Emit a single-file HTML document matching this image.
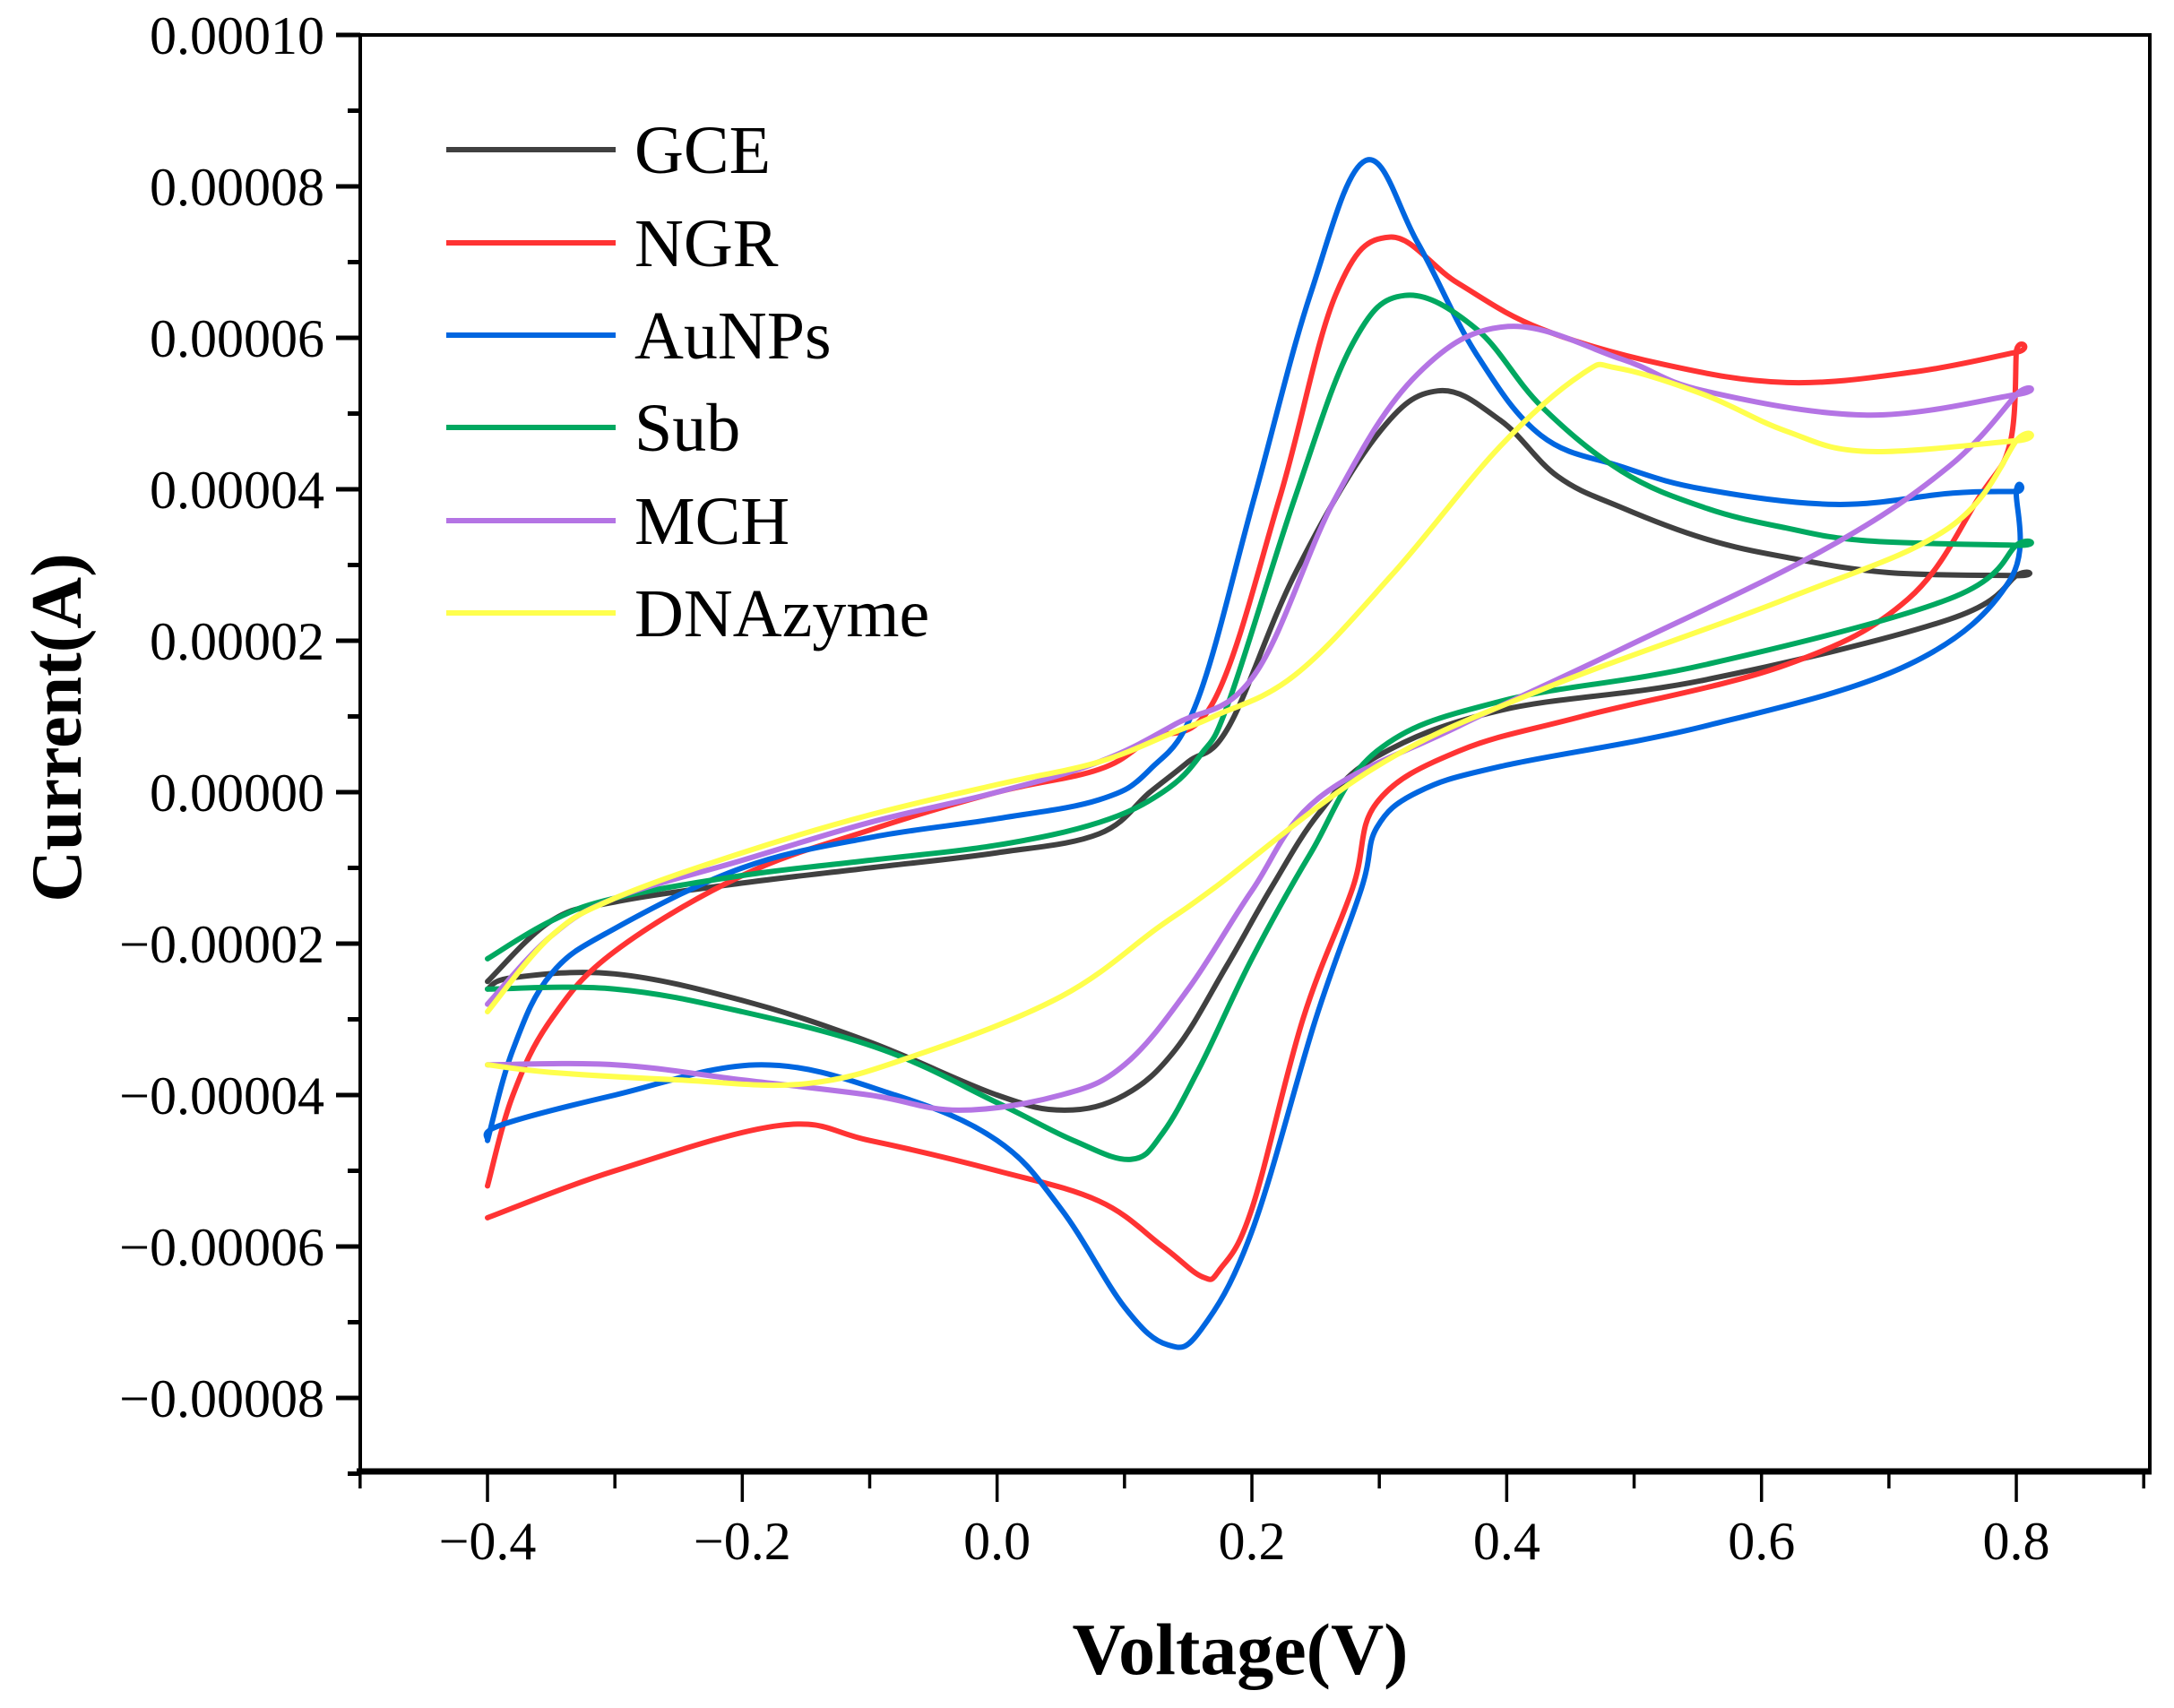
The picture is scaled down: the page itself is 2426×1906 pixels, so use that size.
<!DOCTYPE html>
<html>
<head>
<meta charset="utf-8">
<style>
html,body{margin:0;padding:0;background:#fff;}
svg{display:block;}
text{font-family:"Liberation Serif",serif;fill:#000;}
</style>
</head>
<body>
<svg id="chart" width="2426" height="1906" viewBox="0 0 2426 1906" xmlns="http://www.w3.org/2000/svg">
  <rect x="0" y="0" width="2426" height="1906" fill="#fff"/>
  <g id="series"></g>
  <g id="axes"></g>
  <g id="legend"></g>
  <text x="1384" y="1868" font-size="82" font-weight="bold" text-anchor="middle">Voltage(V)</text>
  <text transform="translate(90,812) rotate(-90)" font-size="80" font-weight="bold" text-anchor="middle">Current(A)</text>
</svg>
<script>
// ---- data (voltage in V, current in 1e-5 A), loop: forward sweep then reverse ----
const seriesNames = ["GCE","NGR","AuNPs","Sub","MCH","DNAzyme"];
const seriesColors = ["#404040","#ff3333","#0066e0","#00a860","#b474e4","#ffff4d"];

const gceV = [-0.4,-0.35,-0.3,-0.2,-0.1,0,0.08,0.12,0.15,0.182,0.234,0.298,0.346,0.395,0.44,0.49,0.555,0.62,0.7,0.8,
              0.8,0.747,0.555,0.395,0.298,0.253,0.215,0.18,0.14,0.1,0.053,0,-0.1,-0.2,-0.3,-0.38,-0.4];
const gceI = [-2.5,-1.7,-1.45,-1.2,-1.0,-0.8,-0.55,0,0.4,0.87,2.89,4.71,5.3,4.91,4.17,3.76,3.35,3.1,2.9,2.86,
              2.86,2.28,1.48,1.08,0.47,-0.27,-1.27,-2.3,-3.4,-4.0,-4.2,-4.0,-3.3,-2.75,-2.4,-2.45,-2.6];

const ngrV = [-0.4,-0.38,-0.35,-0.3,-0.2,-0.1,0,0.08,0.12,0.17,0.222,0.266,0.308,0.362,0.427,0.523,0.62,0.72,0.8,
              0.8,0.795,0.771,0.715,0.619,0.459,0.362,0.298,0.279,0.24,0.2,0.175,0.161,0.13,0.08,0,-0.1,-0.17,-0.3,-0.4];
const ngrI = [-5.2,-4.0,-3.0,-2.1,-1.1,-0.5,0,0.3,0.7,1.2,3.9,6.58,7.33,6.72,6.12,5.65,5.41,5.55,5.81,
              5.81,4.6,3.9,2.55,1.68,1.0,0.54,-0.14,-1.27,-3.0,-5.5,-6.3,-6.4,-6.0,-5.4,-5.0,-4.6,-4.4,-5.0,-5.62];

const aunpV = [-0.4,-0.38,-0.35,-0.3,-0.2,-0.1,0,0.08,0.12,0.157,0.202,0.246,0.289,0.33,0.376,0.427,0.49,0.555,0.658,0.75,0.8,
               0.8,0.795,0.715,0.555,0.395,0.33,0.298,0.286,0.25,0.2,0.16,0.134,0.1,0.05,0,-0.08,-0.185,-0.3,-0.39,-0.4];
const aunpI = [-4.6,-3.4,-2.4,-1.8,-1.0,-0.6,-0.35,-0.1,0.3,1.2,3.9,6.58,8.34,7.26,5.79,4.71,4.3,4.0,3.8,3.95,3.97,
               3.97,2.8,1.68,0.87,0.34,0.0,-0.47,-1.27,-3.0,-5.8,-7.1,-7.3,-6.8,-5.5,-4.6,-4.0,-3.6,-4.0,-4.4,-4.6];

const subV = [-0.4,-0.35,-0.3,-0.2,-0.1,0,0.08,0.13,0.16,0.182,0.234,0.279,0.32,0.376,0.427,0.49,0.555,0.619,0.683,0.8,
              0.8,0.747,0.555,0.395,0.298,0.246,0.2,0.16,0.13,0.105,0.06,0,-0.09,-0.2,-0.3,-0.4];
const subI = [-2.2,-1.7,-1.4,-1.1,-0.9,-0.7,-0.4,0,0.5,1.2,3.9,5.92,6.56,6.12,5.1,4.24,3.76,3.49,3.32,3.26,
              3.26,2.55,1.68,1.2,0.54,-0.81,-2.2,-3.6,-4.5,-4.85,-4.6,-4.1,-3.4,-2.9,-2.6,-2.6];

const mchV = [-0.4,-0.35,-0.3,-0.2,-0.1,0,0.08,0.14,0.202,0.266,0.33,0.401,0.49,0.555,0.683,0.8,
              0.8,0.747,0.651,0.49,0.362,0.253,0.2,0.15,0.1,0.05,-0.03,-0.1,-0.2,-0.3,-0.4];
const mchI = [-2.8,-1.9,-1.4,-0.9,-0.4,0,0.4,0.9,1.55,3.9,5.52,6.15,5.72,5.3,4.98,5.25,
              5.25,4.3,3.22,1.89,0.87,-0.07,-1.3,-2.6,-3.6,-4.0,-4.2,-4.0,-3.8,-3.6,-3.6];

const dnaV = [-0.4,-0.35,-0.3,-0.2,-0.1,0,0.08,0.14,0.17,0.234,0.311,0.395,0.459,0.487,0.555,0.619,0.683,0.8,
              0.8,0.747,0.619,0.427,0.298,0.17,0.127,0.05,-0.063,-0.15,-0.25,-0.35,-0.4];
const dnaI = [-2.9,-1.9,-1.4,-0.8,-0.3,0.1,0.4,0.8,1.0,1.55,2.89,4.57,5.52,5.6,5.25,4.77,4.5,4.64,
              4.64,3.49,2.55,1.35,0.34,-1.27,-1.78,-2.7,-3.47,-3.85,-3.8,-3.7,-3.6];

const allV = [gceV, ngrV, aunpV, subV, mchV, dnaV];
const allI = [gceI, ngrI, aunpI, subI, mchI, dnaI];
const seriesKeys = ["gce","ngr","aunps","sub","mch","dnazyme"];

const xTicks = [-0.4,-0.2,0.0,0.2,0.4,0.6,0.8];
const xTickLabels = ["\u22120.4","\u22120.2","0.0","0.2","0.4","0.6","0.8"];
const xMinorTicks = [-0.5,-0.3,-0.1,0.1,0.3,0.5,0.7,0.9];
const yTicks = [10,8,6,4,2,0,-2,-4,-6,-8];
const yTickLabels = ["0.00010","0.00008","0.00006","0.00004","0.00002","0.00000","\u22120.00002","\u22120.00004","\u22120.00006","\u22120.00008"];
const yMinorTicks = [9,7,5,3,1,-1,-3,-5,-7,-9];

// ---- axis functions ----
function xs(v){ return 544 + (v + 0.4) * 1421.7; }
function ys(i){ return 884 - i * 84.5; }

const NS = "http://www.w3.org/2000/svg";
function mk(tag, attrs){
  const el = document.createElementNS(NS, tag);
  for (const k in attrs) el.setAttribute(k, attrs[k]);
  return el;
}
function smoothPath(pts){
  let d = "M" + pts[0][0].toFixed(1) + "," + pts[0][1].toFixed(1);
  for (let k = 0; k < pts.length - 1; k++){
    const p0 = pts[Math.max(k-1,0)], p1 = pts[k], p2 = pts[k+1], p3 = pts[Math.min(k+2, pts.length-1)];
    const t = 0.18;
    const c1x = p1[0] + (p2[0]-p0[0])*t, c1y = p1[1] + (p2[1]-p0[1])*t;
    const c2x = p2[0] - (p3[0]-p1[0])*t, c2y = p2[1] - (p3[1]-p1[1])*t;
    d += " C" + c1x.toFixed(1)+","+c1y.toFixed(1)+" "+c2x.toFixed(1)+","+c2y.toFixed(1)+" "+p2[0].toFixed(1)+","+p2[1].toFixed(1);
  }
  return d;
}

// ---- series ----
const sg = document.getElementById("series");
for (let s = 0; s < allV.length; s++){
  const pts = allV[s].map((v, k) => [xs(v), ys(allI[s][k])]);
  const p = mk("path", {d: smoothPath(pts), fill: "none", stroke: seriesColors[s], "stroke-width": 6, "stroke-linejoin": "round", "stroke-linecap": "round"});
  
  
  sg.appendChild(p);
}

// ---- axes ----
const ag = document.getElementById("axes");
const frame = mk("rect", {x: 402, y: 39, width: 1997, height: 1603, fill: "none", stroke: "#000", "stroke-width": 4});


ag.appendChild(frame);
const bottomAxis = mk("line", {x1: 398, y1: 1642, x2: 2401, y2: 1642, stroke: "#000", "stroke-width": 7});


ag.appendChild(bottomAxis);

xTicks.forEach((v, k) => {
  const t = mk("line", {x1: xs(v), y1: 1642, x2: xs(v), y2: 1676, stroke: "#000", "stroke-width": 3.5});
  
  
  ag.appendChild(t);
  const lb = mk("text", {x: xs(v), y: 1740, "font-size": 60, "text-anchor": "middle"});
  lb.textContent = xTickLabels[k];
  
  
  ag.appendChild(lb);
});
xMinorTicks.forEach(v => {
  const t = mk("line", {x1: xs(v), y1: 1642, x2: xs(v), y2: 1661, stroke: "#000", "stroke-width": 3.5});
  
  
  ag.appendChild(t);
});
yTicks.forEach((v, k) => {
  const t = mk("line", {x1: 375, y1: ys(v), x2: 402, y2: ys(v), stroke: "#000", "stroke-width": 5});
  
  
  ag.appendChild(t);
  const lb = mk("text", {x: 362, y: ys(v) + 21, "font-size": 60, "text-anchor": "end"});
  lb.textContent = yTickLabels[k];
  
  
  ag.appendChild(lb);
});
yMinorTicks.forEach(v => {
  const t = mk("line", {x1: 388, y1: ys(v), x2: 402, y2: ys(v), stroke: "#000", "stroke-width": 5});
  
  
  ag.appendChild(t);
});

// ---- legend ----
const lg = document.getElementById("legend");
const legendY = [167,271,374,477,581,684];
seriesNames.forEach((n, k) => {
  const g = mk("g", {});
  
  
  const ln = mk("line", {x1: 498, y1: legendY[k], x2: 687, y2: legendY[k], stroke: seriesColors[k], "stroke-width": 6});
  
  
  g.appendChild(ln);
  const tx = mk("text", {x: 708, y: legendY[k] + 26, "font-size": 76});
  tx.textContent = n;
  
  
  g.appendChild(tx);
  lg.appendChild(g);
});
</script>
</body>
</html>
